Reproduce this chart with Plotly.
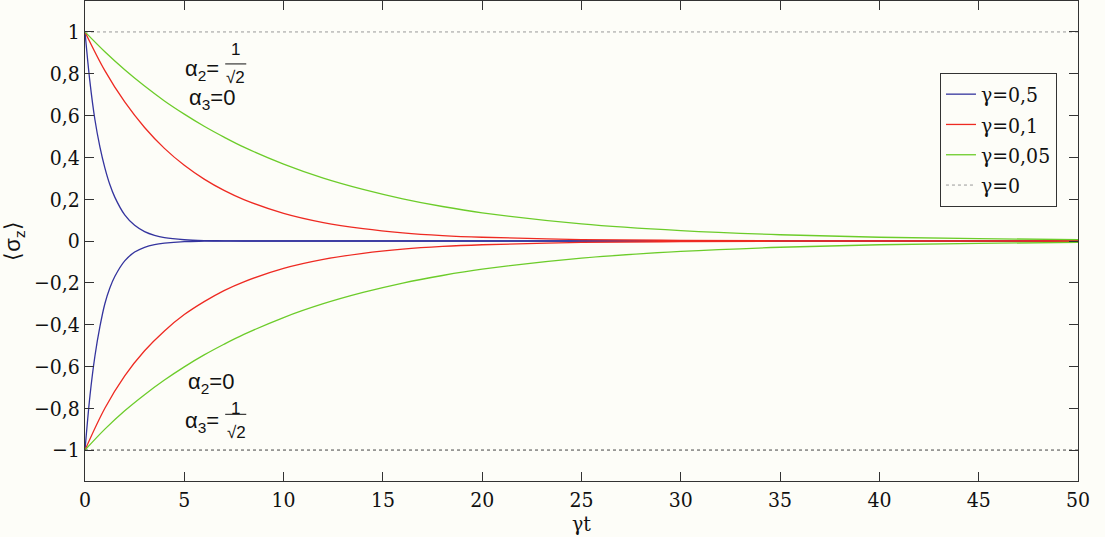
import plotly.graph_objects as go

# ---- data ----
t_blue = [0, 0.25, 0.5, 0.75, 1, 1.25, 1.5, 2, 2.5, 3, 3.5, 4, 5, 6, 7, 8, 10, 15, 20, 30, 40, 50]
blue_upper = [1, 0.76, 0.58, 0.45, 0.35, 0.27, 0.21, 0.125, 0.075, 0.045, 0.027, 0.016, 0.006, 0.002,
              0.001, 0, 0, 0, 0, 0, 0, 0]
blue_lower = [-1, -0.74, -0.55, -0.41, -0.30, -0.225, -0.17, -0.095, -0.053, -0.03, -0.017, -0.01,
              -0.003, -0.001, 0, 0, 0, 0, 0, 0, 0, 0]

t_rg = [0, 1, 2, 3, 4, 5, 6, 7, 8, 10, 12, 14, 16, 18, 20, 25, 30, 35, 40, 45, 50]
red_upper = [1, 0.815, 0.665, 0.543, 0.443, 0.362, 0.296, 0.242, 0.198, 0.132, 0.088, 0.059, 0.039,
             0.026, 0.018, 0.007, 0.003, 0.001, 0.0005, 0.0002, 0.0001]
red_lower = [-1, -0.80, -0.645, -0.525, -0.43, -0.352, -0.29, -0.237, -0.195, -0.131, -0.088, -0.059,
             -0.039, -0.026, -0.018, -0.007, -0.003, -0.001, -0.0005, -0.0002, -0.0001]
green_upper = [1, 0.905, 0.819, 0.741, 0.670, 0.607, 0.549, 0.497, 0.449, 0.368, 0.301, 0.247, 0.202,
               0.165, 0.135, 0.082, 0.050, 0.030, 0.018, 0.011, 0.007]
green_lower = [-1, -0.90, -0.812, -0.735, -0.665, -0.602, -0.545, -0.494, -0.447, -0.366, -0.30,
               -0.246, -0.201, -0.165, -0.135, -0.082, -0.050, -0.030, -0.018, -0.011, -0.007]

t_ref = [0, 50]
ref_upper = [1, 1]
ref_lower = [-1, -1]

x_ticks = [0, 5, 10, 15, 20, 25, 30, 35, 40, 45, 50]
y_ticks = [-1, -0.8, -0.6, -0.4, -0.2, 0, 0.2, 0.4, 0.6, 0.8, 1]
y_ticktext = ["−1", "−0,8", "−0,6", "−0,4", "−0,2", "0", "0,2", "0,4", "0,6", "0,8", "1"]

series_names = ["γ=0,5", "γ=0,1", "γ=0,05", "γ=0"]

# ---- styling ----
BG = "#fdfdf8"
BLUE = "#34349e"
RED = "#ee2a22"
GREEN = "#6ccc2a"
SERIF = "DejaVu Serif Condensed, DejaVu Serif"
SANS = "Liberation Sans, Arial, sans-serif"


def serif_font(size):
    return dict(family=SERIF, size=size, color="#111111")


fig = go.Figure()


def add_pair(t, up, low, color, name, group):
    fig.add_trace(go.Scatter(x=t, y=up, mode="lines", name=name, legendgroup=group,
                             line=dict(color=color, width=1.3, shape="spline")))
    fig.add_trace(go.Scatter(x=t, y=low, mode="lines", name=name, legendgroup=group,
                             showlegend=False,
                             line=dict(color=color, width=1.3, shape="spline")))


add_pair(t_blue, blue_upper, blue_lower, BLUE, series_names[0], "b")
add_pair(t_rg, red_upper, red_lower, RED, series_names[1], "r")
add_pair(t_rg, green_upper, green_lower, GREEN, series_names[2], "g")

fig.add_trace(go.Scatter(x=t_ref, y=ref_upper, mode="lines", name=series_names[3], legendgroup="k",
                         line=dict(color="#999999", width=1, dash="dot")))
fig.add_trace(go.Scatter(x=t_ref, y=ref_lower, mode="lines", name=series_names[3], legendgroup="k",
                         showlegend=False, line=dict(color="#444444", width=1, dash="dot")))

axis_common = dict(showline=True, linecolor="#333333", linewidth=1, mirror="ticks",
                   ticks="inside", ticklen=9, tickcolor="#333333", showgrid=False,
                   zeroline=False, tickfont=serif_font(21))

fig.update_xaxes(range=[0, 50], tickvals=x_ticks,
                 title=dict(text="γt", font=serif_font(21), standoff=0),
                 **axis_common)
fig.update_yaxes(range=[-1.148, 1.148], tickvals=y_ticks, ticktext=y_ticktext,
                 title=dict(text="⟨σ<sub>z</sub>⟩", font=dict(family=SANS, size=22, color="#111111"),
                            standoff=8),
                 **axis_common)

# annotations: alpha labels
ann_font = dict(family=SANS, size=22, color="#111111")
frac_font = dict(family=SANS, size=17, color="#111111")
annotations = [
    dict(x=6.86, y=0.818, text="α<sub>2</sub>=", xanchor="right", font=ann_font),
    dict(x=7.56, y=0.914, text="1", font=frac_font),
    dict(x=7.6, y=0.783, text="√2", font=frac_font),
    dict(x=6.38, y=0.678, text="α<sub>3</sub>=0", font=ann_font),
    dict(x=6.33, y=-0.681, text="α<sub>2</sub>=0", font=ann_font),
    dict(x=6.86, y=-0.865, text="α<sub>3</sub>=", xanchor="right", font=ann_font),
    dict(x=7.56, y=-0.80, text="1", font=frac_font),
    dict(x=7.63, y=-0.917, text="√2", font=frac_font),
]
for a in annotations:
    a.update(xref="x", yref="y", showarrow=False)
fig.update_layout(annotations=annotations)

fig.add_shape(type="line", xref="x", yref="y", x0=7.06, x1=8.12, y0=0.847, y1=0.847,
              line=dict(color="#111111", width=1))
fig.add_shape(type="line", xref="x", yref="y", x0=7.06, x1=8.12, y0=-0.829, y1=-0.829,
              line=dict(color="#111111", width=1))

fig.update_layout(
    width=1105, height=537,
    margin=dict(l=85, r=27, t=1, b=56),
    paper_bgcolor=BG, plot_bgcolor=BG,
    showlegend=True,
    legend=dict(x=0.861, y=0.85, xanchor="left", yanchor="top",
                bgcolor=BG, bordercolor="#333333", borderwidth=1,
                font=serif_font(21),
                tracegroupgap=0, itemwidth=30),
)

fig.write_html("out.html")
